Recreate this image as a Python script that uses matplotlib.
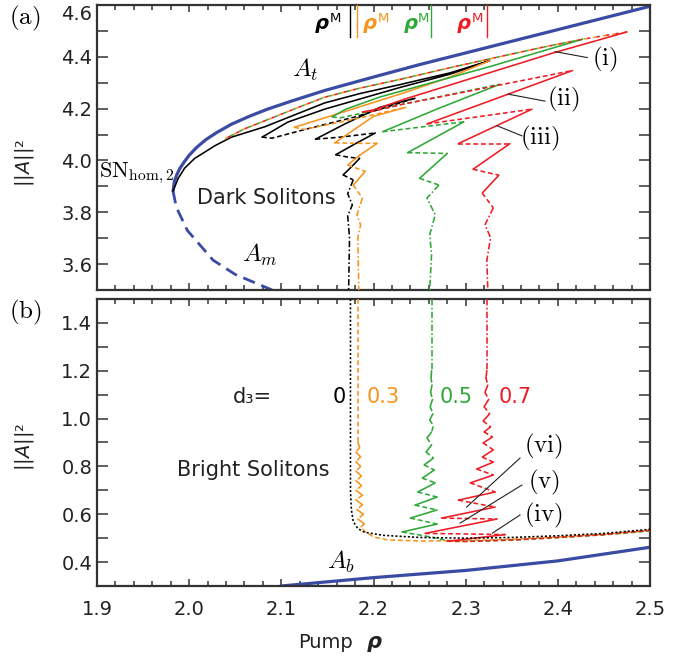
import matplotlib
matplotlib.use('Agg')
import matplotlib.pyplot as plt
from matplotlib.ticker import MultipleLocator

plt.rcParams['font.family'] = ['DejaVu Sans']
plt.rcParams['mathtext.fontset'] = 'dejavusans'

# ---------------- data ----------------
COLORS = {'k': '#000000', 'o': '#f7941d', 'g': '#2ea836', 'r': '#ed1c24', 'b': '#3a4ba3'}
RHO_M = [2.174, 2.182, 2.262, 2.323]
D3_LABELS = ['0', '0.3', '0.5', '0.7']

# homogeneous branches
AT_RHO = [1.9825, 1.984, 1.987, 1.990, 1.995, 2.000, 2.008, 2.018, 2.030, 2.046, 2.065, 2.085,
          2.110, 2.147, 2.200, 2.250, 2.300, 2.350, 2.400, 2.450, 2.500]
AT_I = [3.882, 3.920, 3.948, 3.970, 3.996, 4.020, 4.050, 4.080, 4.108, 4.140, 4.170, 4.198,
        4.228, 4.270, 4.322, 4.370, 4.415, 4.460, 4.505, 4.550, 4.595]
AM_RHO = [1.9825, 1.986, 1.998, 2.026, 2.050, 2.090]
AM_I = [3.882, 3.820, 3.730, 3.615, 3.560, 3.500]
AB_RHO = [2.100, 2.200, 2.300, 2.400, 2.500]
AB_I = [0.300, 0.335, 0.365, 0.405, 0.462]

# common unstable upper arm of the d3 > 0 branches
UP_RHO = [2.039, 2.060, 2.082, 2.115, 2.147, 2.185, 2.229, 2.283, 2.326, 2.381, 2.427, 2.475]
UP_I = [4.084, 4.122, 4.153, 4.200, 4.244, 4.279, 4.313, 4.358, 4.392, 4.435, 4.468, 4.496]

# panel (a) snaking branches; style per segment: s solid, d dashed, u upper dashed, k dash-dot, n gap
BLACK_A_RHO = [1.9825, 1.988, 1.995, 2.006, 2.028, 2.046, 2.082, 2.147, 2.185, 2.229, 2.283, 2.326,
               2.283, 2.229, 2.147, 2.107, 2.084, 2.079, 2.090, 2.126, 2.180, 2.245,
               2.207, 2.169, 2.137, 2.164, 2.202, 2.180, 2.159, 2.172, 2.185, 2.176, 2.167, 2.178,
               2.172, 2.177, 2.172, 2.174, 2.173]
BLACK_A_I = [3.882, 3.930, 3.970, 4.008, 4.057, 4.090, 4.130, 4.222, 4.258, 4.293, 4.338, 4.385,
             4.333, 4.282, 4.198, 4.148, 4.100, 4.090, 4.086, 4.120, 4.168, 4.240,
             4.205, 4.141, 4.082, 4.090, 4.106, 4.064, 4.022, 4.013, 4.008, 3.975, 3.944, 3.925,
             3.872, 3.828, 3.786, 3.700, 3.500]
BLACK_A_STY = 'sssssssssssssssss' 'dddd' 'sss' 'dd' 'ss' 'dd' 'ss' 'd' 'kkkkk'

ORANGE_A_RHO = UP_RHO + [2.326, 2.283, 2.234, 2.170, 2.125, 2.114, 2.125, 2.180, 2.235, 2.200, 2.158,
                         2.180, 2.204, 2.185, 2.172, 2.191, 2.178, 2.188, 2.182, 2.186, 2.183, 2.184]
ORANGE_A_I = UP_I + [4.385, 4.322, 4.262, 4.190, 4.140, 4.128, 4.120, 4.160, 4.205, 4.170, 4.068,
                     4.066, 4.066, 4.020, 3.982, 3.958, 3.905, 3.855, 3.790, 3.752, 3.702, 3.500]
ORANGE_A_STY = 'uuuuuuuuuuu' 'n' 'sssss' 'ddd' 'ss' 'dd' 'ss' 'd' 's' 'd' 'kkkk'

GREEN_A_RHO = UP_RHO[:11] + [2.326, 2.207, 2.170, 2.155, 2.165, 2.229, 2.337, 2.270, 2.210, 2.298,
                             2.237, 2.280, 2.250, 2.271, 2.258, 2.267, 2.261, 2.263, 2.261]
GREEN_A_I = UP_I[:11] + [4.362, 4.245, 4.198, 4.168, 4.165, 4.215, 4.294, 4.200, 4.111, 4.149,
                         4.030, 4.027, 3.931, 3.905, 3.855, 3.790, 3.714, 3.637, 3.500]
GREEN_A_STY = 'uuuuuuuuuu' 'ssss' 'ddd' 'ss' 'd' 's' 'd' 's' 'd' 'kkkkk'

RED_A_RHO = UP_RHO + [2.395, 2.234, 2.200, 2.188, 2.200, 2.229, 2.416, 2.258, 2.372, 2.292,
                      2.348, 2.308, 2.336, 2.318, 2.330, 2.321, 2.327, 2.323, 2.324]
RED_A_I = UP_I + [4.415, 4.237, 4.195, 4.187, 4.190, 4.215, 4.347, 4.141, 4.198, 4.065,
                  4.065, 3.966, 3.943, 3.874, 3.817, 3.752, 3.702, 3.615, 3.500]
RED_A_STY = 'uuuuuuuuuuu' 'ssss' 'ddd' 'sdsdsdsd' 'kkkk'

# panel (b) branches
BLACK_B_RHO = [2.175, 2.175, 2.176, 2.178, 2.183, 2.190, 2.210, 2.250, 2.300, 2.350, 2.400, 2.450, 2.500]
BLACK_B_I = [1.50, 0.70, 0.62, 0.57, 0.54, 0.525, 0.512, 0.503, 0.500, 0.503, 0.510, 0.520, 0.537]
BLACK_B_STY = 'oooooooooooo'

ORANGE_B_RHO = [2.183, 2.183, 2.185, 2.181, 2.186, 2.181, 2.186, 2.181, 2.187, 2.181, 2.187, 2.181,
                2.188, 2.181, 2.188, 2.182, 2.189, 2.183, 2.190, 2.186,
                2.192, 2.200, 2.215, 2.250, 2.300, 2.350, 2.400, 2.450, 2.500]
ORANGE_B_I = [1.50, 0.90, 0.88, 0.86, 0.84, 0.82, 0.80, 0.78, 0.76, 0.74, 0.72, 0.70,
              0.68, 0.66, 0.64, 0.62, 0.60, 0.58, 0.56, 0.545,
              0.525, 0.505, 0.493, 0.488, 0.490, 0.496, 0.505, 0.516, 0.532]
ORANGE_B_STY = 'd' 'sdsdsdsdsdsdsdsdsd' 'ddddddddd'

GREEN_B_RHO = [2.263, 2.263, 2.2625, 2.2635, 2.262, 2.264, 2.2615, 2.2645, 2.261, 2.265,
               2.263, 2.258, 2.263, 2.257, 2.265, 2.255, 2.266, 2.253, 2.267, 2.248, 2.269, 2.245,
               2.269, 2.240, 2.269, 2.231,
               2.262, 2.280, 2.300, 2.350, 2.400, 2.450, 2.500]
GREEN_B_I = [1.50, 1.20, 1.17, 1.14, 1.11, 1.08, 1.05, 1.02, 0.995, 0.97,
             0.944, 0.919, 0.890, 0.860, 0.835, 0.806, 0.785, 0.751, 0.731, 0.693, 0.672, 0.638,
             0.618, 0.584, 0.559, 0.526,
             0.505, 0.490, 0.487, 0.492, 0.502, 0.514, 0.530]
GREEN_B_STY = 'k' 'sdsdsdsd' 'd' 'sdsdsdsdsdsdsds' 'd' 'dddddd'

RED_B_RHO = [2.323, 2.323, 2.322, 2.324, 2.321, 2.325, 2.320, 2.326, 2.319, 2.327,
             2.320, 2.329, 2.319, 2.330, 2.318, 2.330, 2.312, 2.330, 2.305, 2.332, 2.292, 2.332,
             2.274, 2.334, 2.256, 2.343,
             2.280, 2.300, 2.350, 2.400, 2.450, 2.500]
RED_B_I = [1.50, 1.20, 1.17, 1.14, 1.11, 1.08, 1.05, 1.02, 0.99, 0.965,
           0.944, 0.923, 0.898, 0.869, 0.839, 0.818, 0.789, 0.764, 0.731, 0.693, 0.659, 0.630,
           0.584, 0.580, 0.520, 0.515,
           0.487, 0.486, 0.492, 0.503, 0.515, 0.533]
RED_B_STY = 'k' 'sdsdsdsd' 's' 'dsdsdsdsdsdsdsd' 's' 'ddddd'

X_TICKS = [1.9, 2.0, 2.1, 2.2, 2.3, 2.4, 2.5]
YA_TICKS = [3.6, 3.8, 4.0, 4.2, 4.4, 4.6]
YB_TICKS = [0.4, 0.6, 0.8, 1.0, 1.2, 1.4]

# ---------------- drawing ----------------
W, H = 688, 658
fig = plt.figure(figsize=(W / 100, H / 100), dpi=100)
axA = fig.add_axes([97 / W, 1 - 290 / H, 553 / W, 285 / H])
axB = fig.add_axes([97 / W, 1 - 586 / H, 553 / W, 287 / H])

LW = 1.15
UOFF = {'k': 0.0, 'o': 0.0, 'g': 2.0, 'r': 4.0}


def ls_for(ch, ckey):
    if ch == 's':
        return '-'
    if ch == 'd':
        return (0, (3.0, 1.8))
    if ch == 'o':
        return (0, (1.3, 1.3))
    if ch == 'k':
        return (0, (4.0, 1.5, 1.0, 1.5))
    if ch == 'u':
        return (UOFF[ckey], (2.0, 4.0))
    return None


def draw(ax, rho, I, sty, ckey, z=3):
    n = min(len(rho) - 1, len(sty))
    i = 0
    while i < n:
        j = i
        while j + 1 < n and sty[j + 1] == sty[i]:
            j += 1
        ch = sty[i]
        if ch != 'n':
            ax.plot(rho[i:j + 2], I[i:j + 2], color=COLORS[ckey], lw=LW,
                    ls=ls_for(ch, ckey), solid_capstyle='round',
                    solid_joinstyle='round', zorder=z)
        i = j + 1


for ax in (axA, axB):
    ax.set_xlim(1.9, 2.5)
    ax.set_xticks(X_TICKS)
    ax.xaxis.set_minor_locator(MultipleLocator(0.02))
    ax.yaxis.set_minor_locator(MultipleLocator(0.1))
    ax.tick_params(which='both', direction='in', top=True, right=True,
                   color='#333333', width=1.1, labelsize=14, labelcolor='#222222')
    ax.tick_params(axis='x', which='major', length=5)
    ax.tick_params(axis='x', which='minor', length=3.5)
    ax.tick_params(axis='y', which='both', length=8)
    for sp in ax.spines.values():
        sp.set_linewidth(1.6)
        sp.set_color('#333333')

axA.set_ylim(3.5, 4.6)
axA.set_yticks(YA_TICKS)
axA.set_yticklabels(['%.1f' % v for v in YA_TICKS])
axA.get_yticklabels()[-1].set_va('top')
axA.tick_params(axis='x', labelbottom=False)

axB.set_ylim(0.3, 1.5)
axB.set_yticks(YB_TICKS)
axB.set_yticklabels(['%.1f' % v for v in YB_TICKS])
axB.set_xticklabels(['%.1f' % v for v in X_TICKS])
axB.tick_params(axis='x', pad=10)

# panel (a)
axA.plot(AT_RHO, AT_I, color=COLORS['b'], lw=2.3, zorder=2, solid_capstyle='round',
         solid_joinstyle='round')
axA.plot(AM_RHO, AM_I, color=COLORS['b'], lw=2.0, ls=(0, (4.5, 2.5)), zorder=2)
draw(axA, BLACK_A_RHO, BLACK_A_I, BLACK_A_STY, 'k')
draw(axA, ORANGE_A_RHO, ORANGE_A_I, ORANGE_A_STY, 'o')
draw(axA, GREEN_A_RHO, GREEN_A_I, GREEN_A_STY, 'g')
draw(axA, RED_A_RHO, RED_A_I, RED_A_STY, 'r')

# panel (b)
axB.plot(AB_RHO, AB_I, color=COLORS['b'], lw=2.3, zorder=2)
draw(axB, ORANGE_B_RHO, ORANGE_B_I, ORANGE_B_STY, 'o')
draw(axB, GREEN_B_RHO, GREEN_B_I, GREEN_B_STY, 'g')
draw(axB, RED_B_RHO, RED_B_I, RED_B_STY, 'r')
draw(axB, BLACK_B_RHO, BLACK_B_I, BLACK_B_STY, 'k', z=4)

# rho^M markers
ckeys = ['k', 'o', 'g', 'r']
rho_text = [2.144, 2.196, 2.240, 2.298]
for rm, rt, ck in zip(RHO_M, rho_text, ckeys):
    axA.plot([rm, rm], [4.478, 4.60], color=COLORS[ck], lw=1.0, zorder=3)
    axA.text(rt, 4.528, 'ρ', color=COLORS[ck], fontsize=14, fontweight='bold',
             fontstyle='italic', ha='center', va='center')
    axA.annotate('M', xy=(rt, 4.528), xytext=(5.5, 3.5), textcoords='offset points',
                 color=COLORS[ck], fontsize=9.5, ha='left', va='center')

CM = dict(math_fontfamily='cm')
axA.text(1.902, 3.95, r'$\mathrm{SN}_{\mathrm{hom},2}$', fontsize=16, ha='left', va='center', **CM)
axA.text(2.126, 4.350, r'$A_t$', fontsize=18, ha='center', va='center', **CM)
axA.text(2.077, 3.637, r'$A_m$', fontsize=18, ha='center', va='center', **CM)
axA.text(2.084, 3.855, 'Dark Solitons', fontsize=15, ha='center', va='center', color='#222222')

for lab, tpos, p0, p1 in [('i', (2.451, 4.389), (2.432, 4.397), (2.397, 4.420)),
                          ('ii', (2.406, 4.237), (2.386, 4.229), (2.346, 4.256)),
                          ('iii', (2.381, 4.084), (2.361, 4.095), (2.334, 4.134))]:
    axA.text(tpos[0], tpos[1], r'$(\mathrm{%s})$' % lab, fontsize=18, ha='center', va='center', **CM)
    axA.plot([p0[0], p1[0]], [p0[1], p1[1]], color='#222222', lw=0.8, zorder=5)

axB.text(2.069, 1.09, 'd₃=', fontsize=15, ha='center', va='center', color='#222222')
d3_x = [2.163, 2.210, 2.290, 2.354]
for x, lab, ck in zip(d3_x, D3_LABELS, ckeys):
    axB.text(x, 1.09, lab, fontsize=15, ha='center', va='center', color=COLORS[ck])
axB.text(2.070, 0.785, 'Bright Solitons', fontsize=15, ha='center', va='center', color='#222222')
axB.text(2.165, 0.40, r'$A_b$', fontsize=18, ha='center', va='center', **CM)

for lab, tpos, p0, p1 in [('vi', (2.385, 0.885), (2.359, 0.835), (2.301, 0.630)),
                          ('v', (2.385, 0.735), (2.361, 0.722), (2.294, 0.563)),
                          ('iv', (2.385, 0.595), (2.359, 0.597), (2.329, 0.521))]:
    axB.text(tpos[0], tpos[1], r'$(\mathrm{%s})$' % lab, fontsize=18, ha='center', va='center', **CM)
    axB.plot([p0[0], p1[0]], [p0[1], p1[1]], color='#222222', lw=0.8, zorder=5)

# panel labels and axis labels
fig.text(25 / W, 1 - 18 / H, r'$(\mathrm{a})$', fontsize=18, ha='center', va='center', **CM)
fig.text(25 / W, 1 - 312 / H, r'$(\mathrm{b})$', fontsize=18, ha='center', va='center', **CM)
fig.text(25 / W, 1 - 163 / H, '||$A$||²', rotation=90, fontsize=14, ha='center', va='center', color='#222222')
fig.text(25 / W, 1 - 447 / H, '||$A$||²', rotation=90, fontsize=14, ha='center', va='center', color='#222222')
fig.text(325 / W, 1 - 642 / H, 'Pump', fontsize=14, ha='center', va='center', color='#222222')
fig.text(374 / W, 1 - 642 / H, 'ρ', fontsize=15, fontweight='bold', fontstyle='italic',
         ha='center', va='center', color='#222222')

fig.savefig('out.png', dpi=100)
